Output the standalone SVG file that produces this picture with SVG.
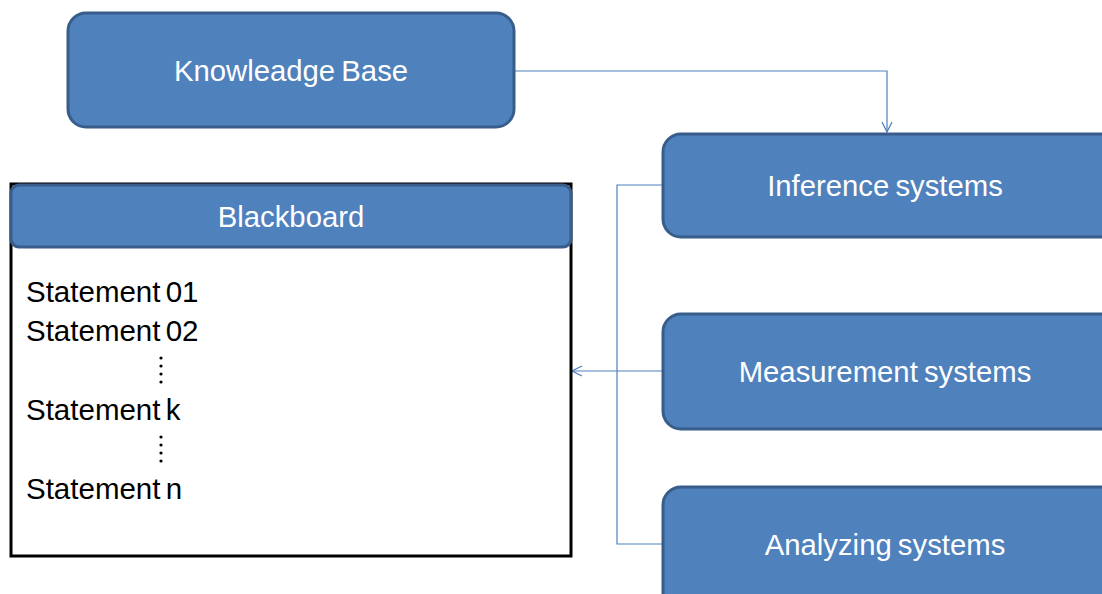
<svg xmlns="http://www.w3.org/2000/svg" width="1102" height="594" viewBox="0 0 1102 594">
  <style>
    .box { fill: #4F81BD; stroke: #385D8A; stroke-width: 3; }
    .lbl { font-family: "Liberation Sans", Arial, sans-serif; font-size: 29.3px; fill: #FFFFFF; text-anchor: middle; word-spacing: -2px; }
    .stmt { font-family: "Liberation Sans", Arial, sans-serif; font-size: 29.5px; fill: #000000; word-spacing: -3px; }
    .wire { fill: none; stroke: #4F81BD; stroke-width: 1.2; }
    .dot { fill: #000000; }
  </style>
  <defs>
    <marker id="openArrow" viewBox="0 0 12 12" refX="11" refY="6" markerWidth="12" markerHeight="12" markerUnits="userSpaceOnUse" orient="auto">
      <path d="M1,1 L11,6 L1,11" fill="none" stroke="#4F81BD" stroke-width="1.3"/>
    </marker>
  </defs>

  <g id="connectors">
    <!-- Knowledge base feeds the inference systems -->
    <path class="wire" d="M515,71 H887 V132" marker-end="url(#openArrow)"/>
    <!-- System bus collecting the three systems -->
    <path class="wire" d="M663,185 H617 V544 H663"/>
    <path class="wire" d="M663,371 H617"/>
    <!-- Bus writes onto the blackboard -->
    <path class="wire" d="M617,371 H572" marker-end="url(#openArrow)"/>
  </g>

  <g id="knowledge-base">
    <rect class="box" x="68" y="13" width="446" height="114" rx="18" ry="18"/>
    <text class="lbl" x="291" y="81">Knowleadge Base</text>
  </g>

  <g id="blackboard">
    <rect x="11" y="184" width="560" height="372" fill="#FFFFFF" stroke="#000000" stroke-width="3"/>
    <rect class="box" x="11" y="185" width="560" height="62" rx="8" ry="8" stroke-width="2"/>
    <text class="lbl" x="291" y="227">Blackboard</text>
    <text class="stmt" x="26" y="302">Statement 01</text>
    <text class="stmt" x="26" y="341">Statement 02</text>
    <circle class="dot" cx="161" cy="358" r="1.6"/>
    <circle class="dot" cx="161" cy="366" r="1.6"/>
    <circle class="dot" cx="161" cy="374" r="1.6"/>
    <circle class="dot" cx="161" cy="382" r="1.6"/>
    <text class="stmt" x="26" y="420">Statement k</text>
    <circle class="dot" cx="161" cy="437" r="1.6"/>
    <circle class="dot" cx="161" cy="445" r="1.6"/>
    <circle class="dot" cx="161" cy="453" r="1.6"/>
    <circle class="dot" cx="161" cy="461" r="1.6"/>
    <text class="stmt" x="26" y="499">Statement n</text>
  </g>

  <g id="inference-systems">
    <rect class="box" x="663" y="134" width="460" height="103" rx="18" ry="18"/>
    <text class="lbl" x="885" y="196">Inference systems</text>
  </g>

  <g id="measurement-systems">
    <rect class="box" x="663" y="314" width="460" height="115" rx="18" ry="18"/>
    <text class="lbl" x="885" y="382">Measurement systems</text>
  </g>

  <g id="analyzing-systems">
    <rect class="box" x="663" y="487" width="460" height="130" rx="18" ry="18"/>
    <text class="lbl" x="885" y="555">Analyzing systems</text>
  </g>
</svg>
